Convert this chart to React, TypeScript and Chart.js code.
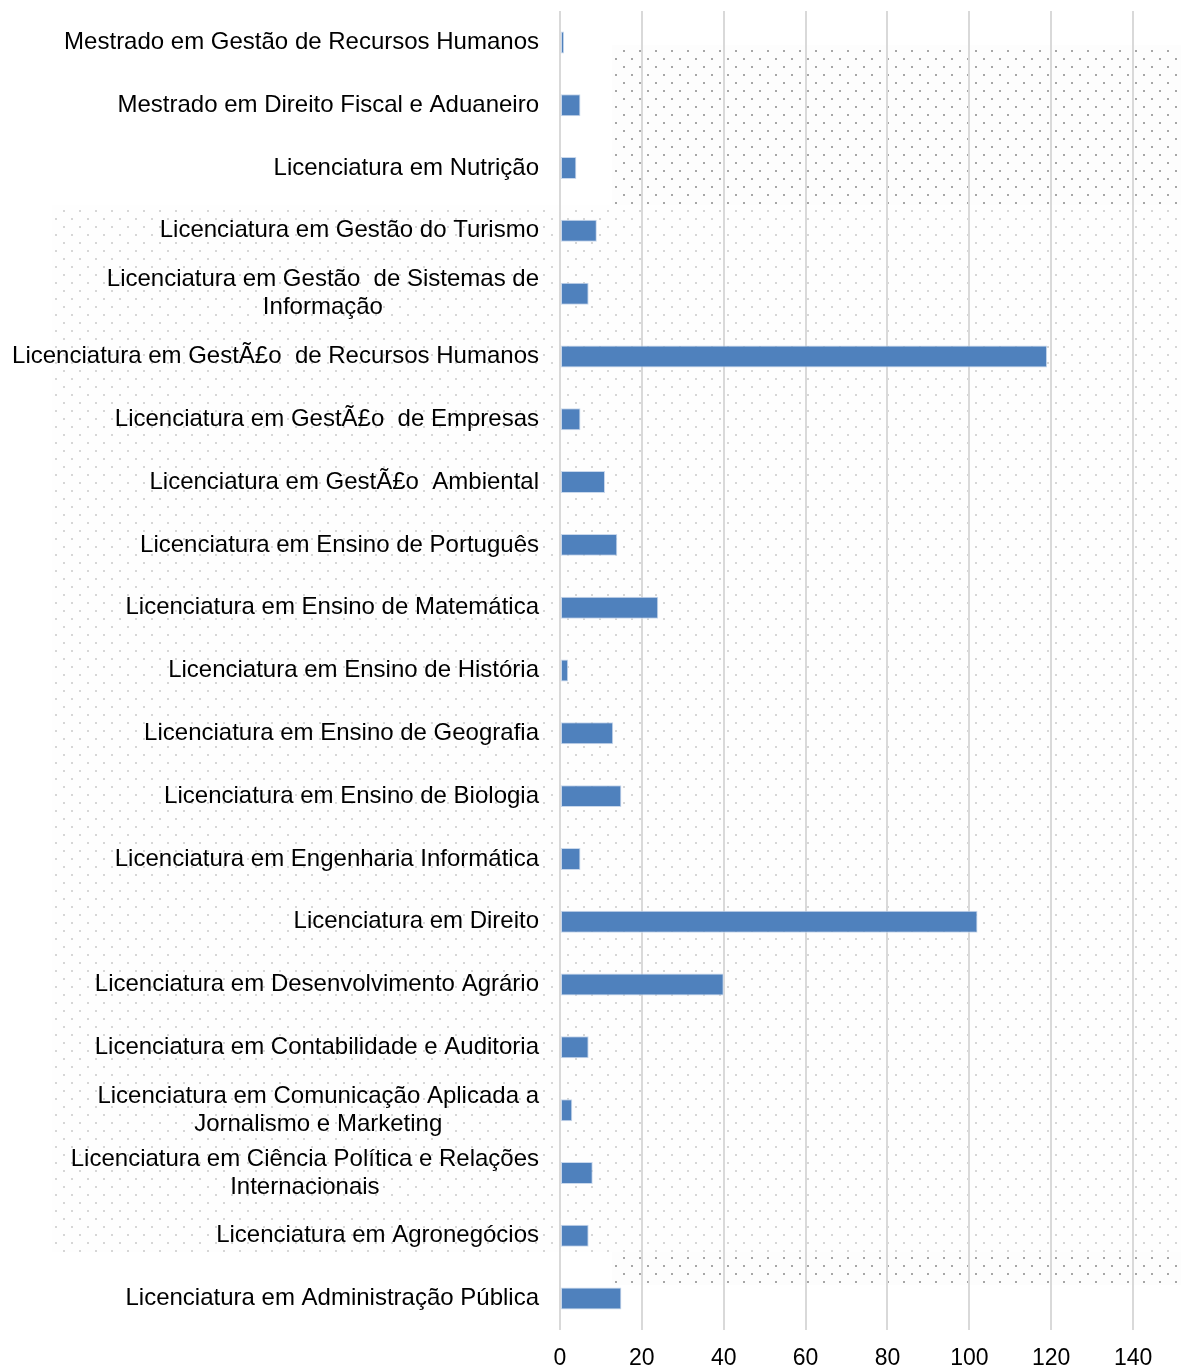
import React, { useEffect, useRef } from "react";
import { Chart, registerables } from "chart.js";

Chart.register(...registerables);

const categories: (string | string[])[] = [
  "Mestrado em Gestão de Recursos Humanos",
  "Mestrado em Direito Fiscal e Aduaneiro",
  "Licenciatura em Nutrição",
  "Licenciatura em Gestão do Turismo",
  ["Licenciatura em Gestão  de Sistemas de", "Informação"],
  "Licenciatura em GestÃ£o  de Recursos Humanos",
  "Licenciatura em GestÃ£o  de Empresas",
  "Licenciatura em GestÃ£o  Ambiental",
  "Licenciatura em Ensino de Português",
  "Licenciatura em Ensino de Matemática",
  "Licenciatura em Ensino de História",
  "Licenciatura em Ensino de Geografia",
  "Licenciatura em Ensino de Biologia",
  "Licenciatura em Engenharia Informática",
  "Licenciatura em Direito",
  "Licenciatura em Desenvolvimento Agrário",
  "Licenciatura em Contabilidade e Auditoria",
  ["Licenciatura em Comunicação Aplicada a", "Jornalismo e Marketing"],
  ["Licenciatura em Ciência Política e Relações", "Internacionais"],
  "Licenciatura em Agronegócios",
  "Licenciatura em Administração Pública",
];

const values: number[] = [1, 5, 4, 9, 7, 119, 5, 11, 14, 24, 2, 13, 15, 5, 102, 40, 7, 3, 8, 7, 15];

const xTicks: number[] = [0, 20, 40, 60, 80, 100, 120, 140];

const FONT = "'Liberation Sans', Arial, sans-serif";

const dotRegions = [
  { x0: 612, y0: 45, x1: 1181, y1: 205, color: "#a6a6a6", fill: "#fdfdfd" },
  { x0: 52, y0: 205, x1: 1181, y1: 1252, color: "#d6d6d6", fill: "#fefefe" },
  { x0: 612, y0: 1252, x1: 1181, y1: 1285, color: "#a6a6a6", fill: "#fdfdfd" },
];

const dotsPlugin = {
  id: "dots",
  beforeDraw(chart: any) {
    const ctx = chart.ctx;
    ctx.save();
    for (const r of dotRegions) {
      ctx.fillStyle = r.fill;
      ctx.fillRect(r.x0, r.y0, r.x1 - r.x0, r.y1 - r.y0);
      ctx.fillStyle = r.color;
      let row = 0;
      for (let y = r.y0 + 5; y < r.y1 - 1; y += 8) {
        const off = row % 2 === 0 ? 11 : 3;
        for (let x = r.x0 + off; x < r.x1 - 1; x += 16) {
          ctx.fillRect(x, y, 2, 2);
        }
        row++;
      }
    }
    ctx.restore();
  },
};

const labelsPlugin = {
  id: "catLabels",
  afterDraw(chart: any) {
    const ctx = chart.ctx;
    const yScale = chart.scales.y;
    const right = 539;
    const lh = 28;
    ctx.save();
    ctx.font = `24px ${FONT}`;
    ctx.fillStyle = "#000000";
    ctx.textBaseline = "middle";
    ctx.textAlign = "center";
    categories.forEach((lab, i) => {
      const yc = yScale.getPixelForValue(i);
      const lines = Array.isArray(lab) ? lab : [lab];
      const widths = lines.map((l) => ctx.measureText(l).width);
      const bw = Math.max(...widths);
      const cx = right - bw / 2;
      const y0 = yc - ((lines.length - 1) * lh) / 2;
      lines.forEach((l, j) => {
        ctx.fillText(l, cx, y0 + j * lh);
      });
    });
    ctx.restore();
  },
};

export default function App() {
  const ref = useRef<HTMLCanvasElement | null>(null);

  useEffect(() => {
    if (!ref.current) return;
    const chart = new Chart(ref.current, {
      type: "bar",
      data: {
        labels: categories.map((c) => (Array.isArray(c) ? c.join(" ") : c)),
        datasets: [
          {
            data: values,
            backgroundColor: "#4f81bd",
            borderColor: "#c9d8ec",
            borderWidth: 1,
            borderSkipped: false,
            barPercentage: 0.35,
            categoryPercentage: 1,
          },
        ],
      },
      options: {
        indexAxis: "y",
        animation: false,
        responsive: false,
        maintainAspectRatio: false,
        devicePixelRatio: 1,
        layout: { padding: { left: 560, top: 11, right: 22, bottom: 0 } },
        plugins: {
          legend: { display: false },
          tooltip: { enabled: false },
        },
        scales: {
          y: {
            type: "category",
            ticks: { display: false },
            grid: { display: false, drawTicks: false },
            border: { display: false },
          },
          x: {
            type: "linear",
            min: 0,
            max: 150,
            afterBuildTicks: (axis: any) => {
              axis.ticks = xTicks.map((v) => ({ value: v }));
            },
            afterFit: (axis: any) => {
              axis.height = 41;
            },
            ticks: {
              font: { family: FONT, size: 23 },
              color: "#000000",
              padding: 15,
            },
            grid: {
              color: "#d9d9d9",
              lineWidth: 2,
              drawTicks: false,
            },
            border: { display: false },
          },
        },
      },
      plugins: [dotsPlugin, labelsPlugin],
    });
    return () => chart.destroy();
  }, []);

  return (
    <div style={{ position: "fixed", left: 0, top: 0, width: 1196, height: 1371, background: "#ffffff" }}>
      <canvas ref={ref} width={1196} height={1371} style={{ width: 1196, height: 1371 }} />
    </div>
  );
}
